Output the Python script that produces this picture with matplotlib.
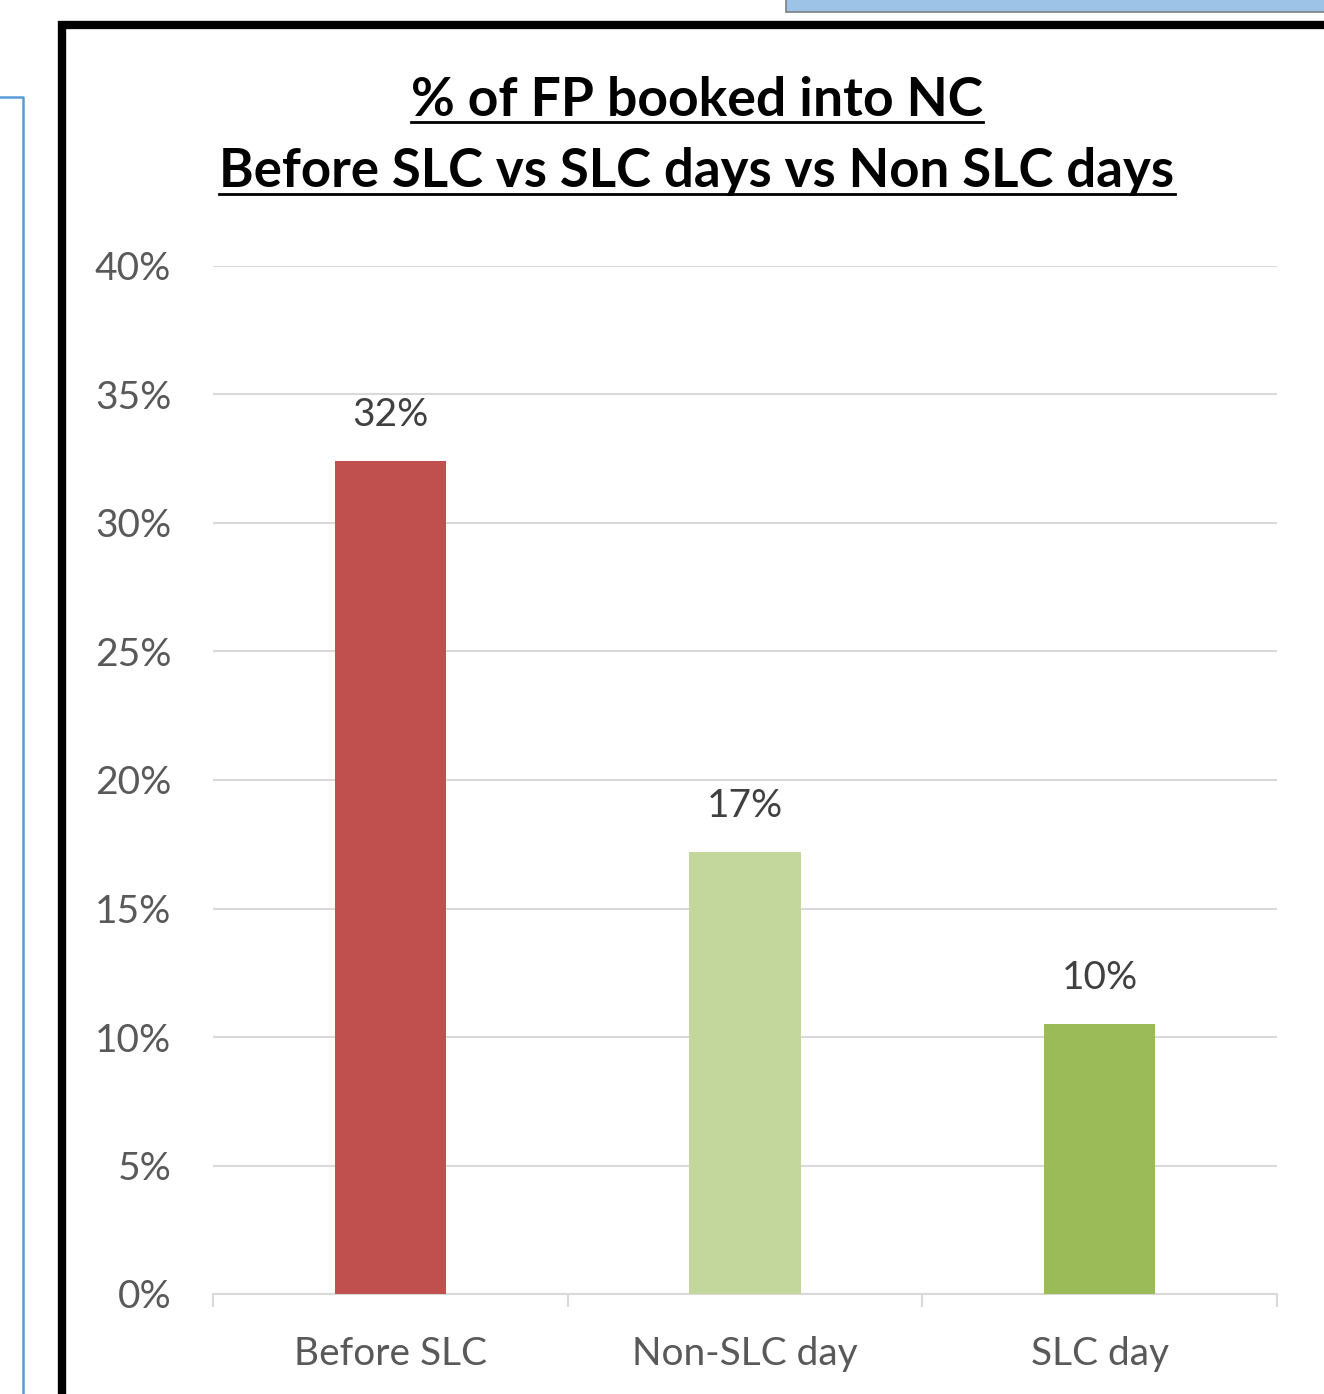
import numpy as np
import matplotlib
matplotlib.use("Agg")
from matplotlib import pyplot as plt
from matplotlib.lines import Line2D
from matplotlib.patches import Rectangle

plt.rcParams['font.family'] = ['Lato', 'DejaVu Sans']

categories = ["Before SLC", "Non-SLC day", "SLC day"]
values = [32.4, 17.2, 10.5]
labels = ["32%", "17%", "10%"]
colors = ["#C0504D", "#C3D69B", "#9BBB59"]
yticks = [0, 5, 10, 15, 20, 25, 30, 35, 40]

W, H = 1324, 1394
fig = plt.figure(figsize=(W / 100, H / 100), dpi=100)


def fx(px):
    return px / W


def fy(py):
    return 1 - py / H


ax = fig.add_axes([fx(213), fy(1294), fx(1277) - fx(213), fy(266) - fy(1294)])
x = np.arange(len(categories))
ax.bar(x, values, width=0.313, color=colors, zorder=3)
for xi, v, lab in zip(x, values, labels):
    ax.annotate(lab, (xi, v), xytext=(0, 28), textcoords="offset pixels",
                ha="center", va="bottom", fontsize=28, color="#404040")

ax.set_xlim(-0.5, 2.5)
ax.set_ylim(0, 40)
ax.set_yticks(yticks)
ax.set_yticklabels([f"{t}%" for t in yticks])
ax.set_xticks(x)
ax.set_xticklabels(categories)
ax.set_xticks([-0.5, 0.5, 1.5, 2.5], minor=True)
ax.tick_params(axis="y", length=0, pad=30, labelsize=28, labelcolor="#595959")
ax.tick_params(axis="x", which="major", length=0, pad=30, labelsize=28, labelcolor="#595959")
ax.tick_params(axis="x", which="minor", length=9, width=1.5, color="#D9D9D9")
ax.grid(axis="y", color="#D9D9D9", linewidth=1.5, zorder=0)
for s in ["top", "right", "left"]:
    ax.spines[s].set_visible(False)
ax.spines["bottom"].set_color("#D9D9D9")
ax.spines["bottom"].set_linewidth(1.5)

# 标题（带下划线）
t1 = fig.text(fx(697), fy(116), "% of FP booked into NC", ha="center", va="baseline",
              fontsize=38.5, fontweight="bold", color="black")
t2 = fig.text(fx(697), fy(187), "Before SLC vs SLC days vs Non SLC days", ha="center",
              va="baseline", fontsize=38, fontweight="bold", color="black")
fig.canvas.draw()
r = fig.canvas.get_renderer()
for t, uy in [(t1, 122), (t2, 194)]:
    bb = t.get_window_extent(r)
    fig.add_artist(Line2D([bb.x0 / W, bb.x1 / W], [fy(uy), fy(uy)], color="black", lw=2))

# 外框和周围的截图残留
fig.add_artist(Rectangle((fx(62), fy(1500)), fx(1500), fy(24.5) - fy(1500), fill=False,
                         edgecolor="black", linewidth=6, transform=fig.transFigure))
fig.add_artist(Line2D([0, fx(22.5), fx(22.5)], [fy(97), fy(97), 0], color="#5B9BD5", lw=1.8))
fig.add_artist(Rectangle((fx(786), fy(12)), fx(600), fy(-20) - fy(12), facecolor="#9DC3E6",
                         edgecolor="#7F7F7F", linewidth=1.2, transform=fig.transFigure))

fig.savefig("out.png", dpi=100)
